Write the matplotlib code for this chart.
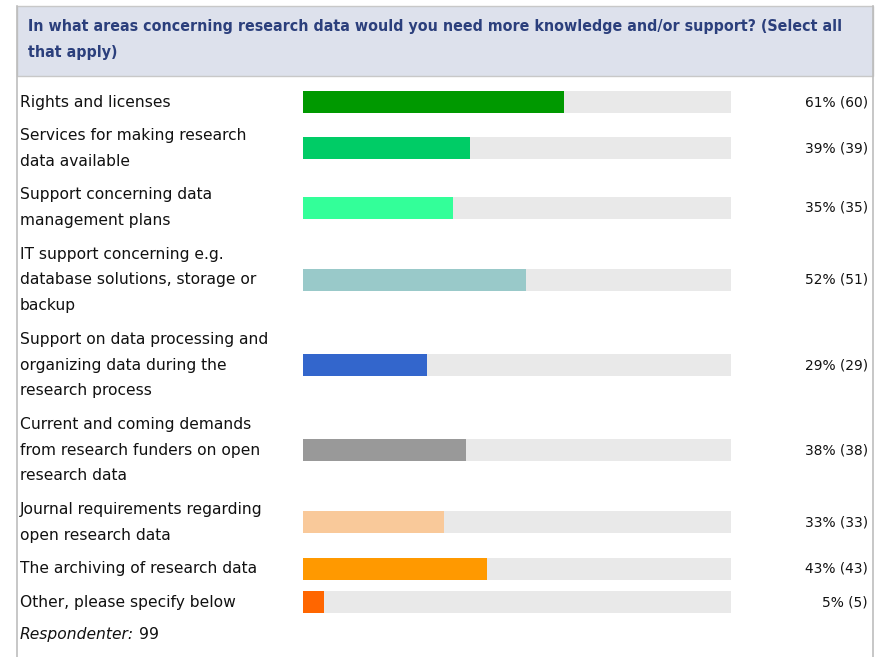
import matplotlib
matplotlib.use("Agg")
import matplotlib.pyplot as plt
from matplotlib.patches import Rectangle

title_lines = ["In what areas concerning research data would you need more knowledge and/or support? (Select all",
               "that apply)"]

labels = [
    ["Rights and licenses"],
    ["Services for making research", "data available"],
    ["Support concerning data", "management plans"],
    ["IT support concerning e.g.", "database solutions, storage or", "backup"],
    ["Support on data processing and", "organizing data during the", "research process"],
    ["Current and coming demands", "from research funders on open", "research data"],
    ["Journal requirements regarding", "open research data"],
    ["The archiving of research data"],
    ["Other, please specify below"],
]
percent = [61, 39, 35, 52, 29, 38, 33, 43, 5]
counts = [60, 39, 35, 51, 29, 38, 33, 43, 5]
colors = ['#009900', '#00cc66', '#33ff99', '#99c9c9', '#3366cc',
          '#999999', '#f9c99a', '#ff9900', '#ff6600']
respondents = 99

W, H = 877, 657
fig = plt.figure(figsize=(W / 100, H / 100), dpi=100)

# background axes in pixel coords
bg = fig.add_axes([0, 0, 1, 1])
bg.set_xlim(0, W)
bg.set_ylim(H, 0)
bg.axis('off')

bg.add_patch(Rectangle((16.5, 5.5), 856, 70, facecolor='#dde1ec', edgecolor='#c8c8c8', lw=1))
bg.plot([16.5, 16.5], [5.5, H], color='#bdbdbd', lw=1.2)
bg.plot([872.5, 872.5], [5.5, H], color='#bdbdbd', lw=1.2)

title_font = dict(family='DejaVu Sans', fontstretch='condensed', fontweight='bold',
                  fontsize=11.45, color='#2b3f7c', va='center', ha='left')
bg.text(28, 27, title_lines[0], **title_font)
bg.text(28, 53, title_lines[1], **title_font)

label_size = 11.2
line_pitch = 25.8
row_gap = 33.5
y = 102
row_centers = []
for lab in labels:
    for k, line in enumerate(lab):
        bg.text(20, y + k * line_pitch, line, fontsize=label_size, color='#111111',
                va='center', ha='left')
    row_centers.append(y + (len(lab) - 1) * line_pitch / 2)
    y = y + (len(lab) - 1) * line_pitch + row_gap

resp = bg.text(20, y - 1, "Respondenter:", fontsize=label_size, style='italic',
               color='#111111', va='center', ha='left')
fig.canvas.draw()
ext = resp.get_window_extent()
bg.text(ext.x1 + 5, y - 1, str(respondents), fontsize=label_size, color='#111111',
        va='center', ha='left')

# bars
ax = fig.add_axes([303 / W, 0, (731 - 303) / W, 1])
ax.set_xlim(0, 100)
ax.set_ylim(H, 0)
ax.axis('off')
ax.barh(row_centers, [100] * len(percent), height=22, color='#e9e9e9', edgecolor='none')
ax.barh(row_centers, percent, height=22, color=colors, edgecolor='none')

for yc, p, c in zip(row_centers, percent, counts):
    bg.text(868, yc, f"{p}% ({c})", fontsize=9.9, color='#111111', va='center', ha='right')

fig.savefig('out.png', dpi=100)
